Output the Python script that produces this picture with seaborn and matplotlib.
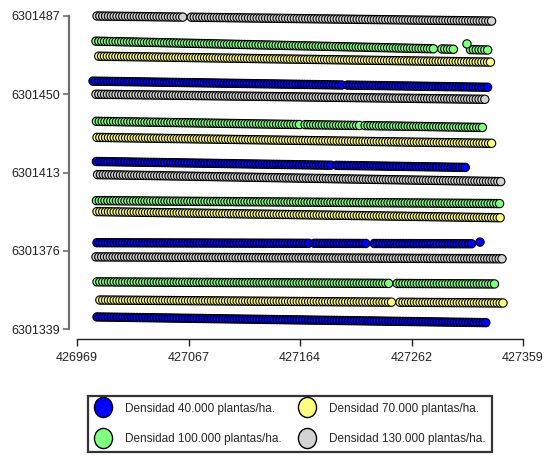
import numpy as np
import pandas as pd
import matplotlib
matplotlib.use("Agg")
import matplotlib.pyplot as plt
import seaborn as sns
from matplotlib.path import Path
from matplotlib.lines import Line2D
from matplotlib.transforms import Affine2D

# ---------------- data ----------------
density_labels = ["Densidad 40.000 plantas/ha.", "Densidad 70.000 plantas/ha.",
                  "Densidad 100.000 plantas/ha.", "Densidad 130.000 plantas/ha."]
density_colors = ["#0000FF", "#FFFF80", "#80FF80", "#D3D3D3"]

# harvest rows (top to bottom): density index, start/end easting, start/end northing
row_density = [3, 2, 1, 0, 3, 2, 1, 0, 3, 2, 1, 0, 3, 2, 1, 0]
row_x_start = [426986.5, 426985.6, 426988.0, 426983.0, 426985.6, 426986.0, 426986.5, 426986.0,
               426987.0, 426986.0, 426986.5, 426986.5, 426985.6, 426986.5, 426989.0, 426986.5]
row_x_end = [427332.8, 427330.0, 427331.0, 427329.0, 427327.5, 427324.0, 427332.0, 427310.0,
             427340.6, 427339.0, 427340.6, 427314.4, 427343.0, 427334.5, 427341.5, 427327.5]
row_y_start = [6301487.0, 6301475.1, 6301468.0, 6301456.2, 6301450.0, 6301437.2, 6301429.6, 6301418.2,
               6301412.0, 6301399.7, 6301394.5, 6301379.8, 6301373.1, 6301361.3, 6301352.7, 6301344.7]
row_y_end = [6301484.6, 6301470.9, 6301465.2, 6301453.3, 6301447.6, 6301434.3, 6301426.8, 6301415.4,
             6301408.7, 6301398.3, 6301391.6, 6301379.3, 6301372.2, 6301360.3, 6301351.3, 6301342.0]
# gaps in each row (easting from, to)
row_gaps = [[(427062.6, 427066.9)],
            [(427282.0, 427286.4), (427299.5, 427312.7)],
            [],
            [(427200.7, 427203.3)],
            [],
            [(427164.0, 427166.6), (427216.5, 427219.0)],
            [],
            [(427192.9, 427195.5)],
            [],
            [],
            [],
            [(427172.7, 427175.4), (427222.6, 427227.0)],
            [],
            [(427242.7, 427247.0)],
            [(427245.3, 427249.7)],
            []]
# isolated readings
extra_x = [427310.0, 427321.4]
extra_y = [6301473.8, 6301380.1]
extra_density = [2, 0]

sample_spacing = 2.5  # metres between yield-monitor readings

x_ticks = [426969, 427067, 427164, 427262, 427359]
y_ticks = [6301339, 6301376, 6301413, 6301450, 6301487]

# ---------------- build table ----------------
recs = []
for d, xs, xe, ys, ye, gaps in zip(row_density, row_x_start, row_x_end,
                                   row_y_start, row_y_end, row_gaps):
    xx = np.arange(xs, xe + 0.01, sample_spacing)
    yy = ys + (ye - ys) * (xx - xs) / (xe - xs)
    keep = np.ones_like(xx, dtype=bool)
    for g0, g1 in gaps:
        keep &= ~((xx > g0) & (xx < g1))
    for a, b in zip(xx[keep], yy[keep]):
        recs.append((a, b, density_labels[d]))
for a, b, d in zip(extra_x, extra_y, extra_density):
    recs.append((a, b, density_labels[d]))
df = pd.DataFrame(recs, columns=["x", "y", "densidad"])

# ---------------- plot ----------------
sns.set_style("white")
plt.rcParams["font.family"] = ["Liberation Sans", "DejaVu Sans"]

fig = plt.figure(figsize=(5.49, 4.59), dpi=100)
ax = fig.add_axes([77 / 549, 1 - 329 / 459, 446 / 549, 313 / 459])

sns.scatterplot(data=df, x="x", y="y", hue="densidad", hue_order=density_labels,
                palette=density_colors, s=36, edgecolor="black", linewidth=0.8,
                legend=False, ax=ax)
for c in ax.collections:
    c.set_clip_on(False)

ax.set_xlim(x_ticks[0], x_ticks[-1])
ax.set_ylim(y_ticks[0], y_ticks[-1])
ax.set_xticks(x_ticks)
ax.set_yticks(y_ticks)
ax.set_xticklabels([str(v) for v in x_ticks])
ax.set_yticklabels([str(v) for v in y_ticks])
ax.set_xlabel("")
ax.set_ylabel("")

for s in ["top", "right"]:
    ax.spines[s].set_visible(False)
ax.spines["left"].set_position(("outward", 6))
ax.spines["bottom"].set_position(("outward", 7.5))
ax.spines["left"].set_color("#707070")
ax.spines["left"].set_linewidth(1.6)
ax.spines["bottom"].set_color("#222222")
ax.spines["bottom"].set_linewidth(1.0)
ax.tick_params(axis="y", direction="out", length=4, width=1.2, color="#707070",
               labelsize=9, labelcolor="#222222", pad=2, left=True)
ax.tick_params(axis="x", direction="out", length=5, width=1.0, color="#222222",
               labelsize=9, labelcolor="#222222", pad=4, bottom=True)

# legend with oval markers
circ = Path.unit_circle()
oval = circ.transformed(Affine2D().scale(0.9, 1.0))
order = [0, 2, 1, 3]
handles = [Line2D([], [], marker=oval, linestyle="none", markersize=14.5,
                  markerfacecolor=density_colors[i], markeredgecolor="black",
                  markeredgewidth=1.0) for i in order]
labels = [density_labels[i] for i in order]
leg = fig.legend(handles, labels, ncol=2, loc="center",
                 bbox_to_anchor=(290 / 549, 1 - 424 / 459), frameon=True,
                 fancybox=False, edgecolor="black", fontsize=8.5,
                 handletextpad=1.1, columnspacing=1.4, labelspacing=1.6,
                 borderpad=0.55, handlelength=1.5)
leg.get_frame().set_linewidth(1.6)

fig.savefig("out.png", dpi=100)
